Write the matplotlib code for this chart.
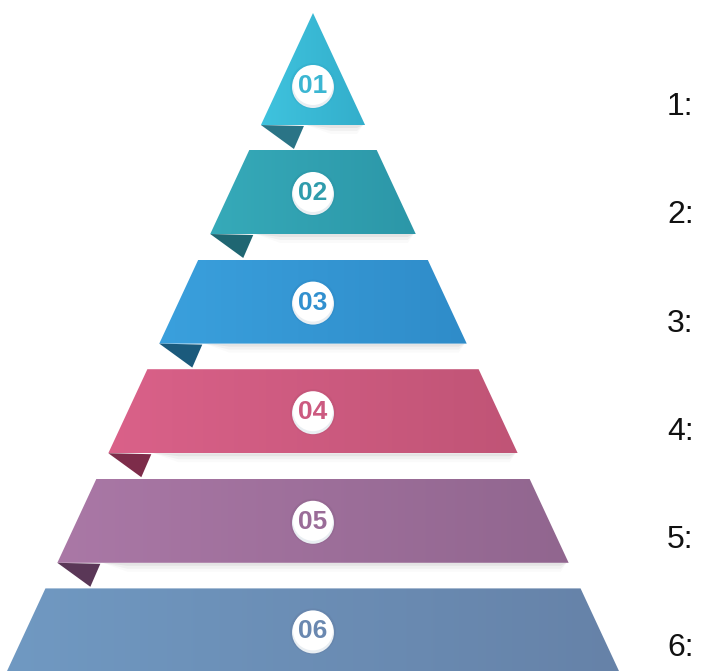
import numpy as np
import matplotlib
matplotlib.use("Agg")
import matplotlib.pyplot as plt
from matplotlib.patches import Polygon, Circle
from matplotlib.colors import LinearSegmentedColormap

# 数据
badges = ["01", "02", "03", "04", "05", "06"]
labels = ["1:", "2:", "3:", "4:", "5:", "6:"]
left_colors = ["#3fc3de", "#36aab9", "#3aa0dd", "#da6189", "#aa78a6", "#7099c2"]
right_colors = ["#33aecb", "#2c97a8", "#2f8cc9", "#c05476", "#91668f", "#6682a8"]
fold_colors = ["#2a7486", "#1f6672", "#1b5a7c", "#7d2c4a", "#5a3757", "#4e5f80"]
text_colors = ["#3bb6d2", "#2f9cac", "#3190cf", "#cc5a80", "#9a6c98", "#6a88b0"]

# 版式（像素坐标）
W, H = 702, 671
apex_x, apex_y = 313, 13
slope = 0.465
first_top = 150
pitch = 109.6
layer_h = 84
gap = first_top - 125

fig = plt.figure(figsize=(W / 100, H / 100), dpi=100)
ax = fig.add_axes([0, 0, 1, 1])
fig.patch.set_facecolor("white")


def edge_x(y, side):
    return apex_x + side * slope * (y - apex_y)


for i, num in enumerate(badges):
    if i == 0:
        top, bot = apex_y, first_top - gap
    else:
        top = first_top + (i - 1) * pitch
        bot = top + layer_h
    tl, tr = edge_x(top, -1), edge_x(top, 1)
    bl, br = edge_x(bot, -1), edge_x(bot, 1)
    if i == 0:
        pts = [(apex_x, top), (br, bot), (bl, bot)]
    else:
        pts = [(tl, top), (tr, top), (br, bot), (bl, bot)]

    # 下方阴影
    for k, a in enumerate([0.05, 0.035, 0.02]):
        d = 3 * (k + 1)
        sh = Polygon([(bl + 45, bot), (br - 2, bot), (br - 8, bot + d), (bl + 70, bot + d)],
                     closed=True, facecolor="#000000", alpha=a, edgecolor="none", zorder=1)
        ax.add_patch(sh)

    poly = Polygon(pts, closed=True, facecolor="none", edgecolor="none", zorder=2)
    ax.add_patch(poly)
    cmap = LinearSegmentedColormap.from_list(f"g{i}", [left_colors[i], right_colors[i]])
    grad = np.linspace(0, 1, 256).reshape(1, -1)
    im = ax.imshow(grad, cmap=cmap, extent=[bl, br, bot, top], aspect="auto",
                   interpolation="bilinear", zorder=2)
    im.set_clip_path(poly)

    # 左下角折角
    if i < len(badges) - 1:
        fold = Polygon([(bl, bot), (bl + 43, bot + 1), (bl + 33, bot + 24)], closed=True,
                       facecolor=fold_colors[i], edgecolor="none", zorder=3)
        ax.add_patch(fold)

    # 圆形编号
    cy = 85 if i == 0 else (top + bot) / 2
    ax.add_patch(Circle((apex_x, cy + 1), 23, facecolor=right_colors[i], edgecolor="none",
                        alpha=0.55, zorder=4))
    ax.add_patch(Circle((apex_x, cy + 2), 21, facecolor="#e9eef2", edgecolor="none", zorder=4))
    ax.add_patch(Circle((apex_x, cy), 20, facecolor="white", edgecolor="none", zorder=5))
    ax.text(apex_x, cy + 1, num, ha="center", va="center", fontsize=19, fontweight="bold",
            color=text_colors[i], family=["Liberation Sans Narrow", "Liberation Sans", "DejaVu Sans"],
            zorder=6)

    # 右侧标签
    ax.text(667, 107 + i * 108.3, labels[i], ha="left", va="center", fontsize=23,
            color="#111111", family=["Liberation Sans", "DejaVu Sans"], zorder=6)

ax.set_xlim(0, W)
ax.set_ylim(H, 0)
ax.axis("off")

plt.savefig("out.png", dpi=100, facecolor="white")
plt.close()
